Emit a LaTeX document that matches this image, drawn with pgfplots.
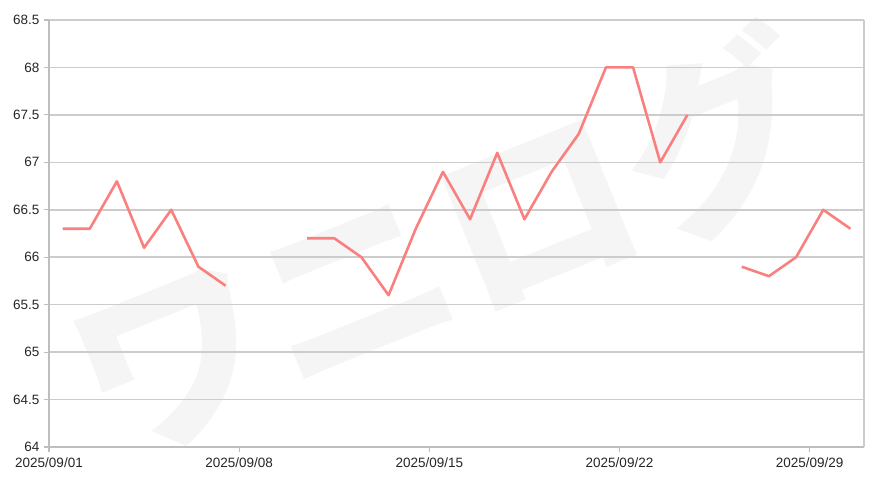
\documentclass[border=0pt]{standalone}
\usepackage{fontspec}
\setmainfont{Liberation Sans}
\newfontfamily\cjk{Noto Sans CJK JP}
\usepackage{pgfplots}
\pgfplotsset{compat=1.18}

\definecolor{lineC}{RGB}{250,128,128}
\definecolor{gridC}{RGB}{204,204,204}
\definecolor{axisC}{RGB}{190,190,190}
\definecolor{markC}{RGB}{245,245,245}

\pgfplotstableread{
x    y
1.5  66.3
2.5  66.3
3.5  66.8
4.5  66.1
5.5  66.5
6.5  65.9
7.5  65.7
8.5  nan
9.5  nan
10.5 66.2
11.5 66.2
12.5 66.0
13.5 65.6
14.5 66.3
15.5 66.9
16.5 66.4
17.5 67.1
18.5 66.4
19.5 66.9
20.5 67.3
21.5 68.0
22.5 68.0
23.5 67.0
24.5 67.5
25.5 nan
26.5 65.9
27.5 65.8
28.5 66.0
29.5 66.5
30.5 66.3
}\price

\begin{document}
\begin{tikzpicture}[x=1pt,y=1pt]
\path[use as bounding box] (0,0) rectangle (878,488);
% watermark
\node[text=markC, rotate=22, inner sep=0pt] at (445,242)
  {\cjk\bfseries\fontsize{196}{196}\selectfont ワニログ};
\begin{axis}[
    at={(49pt,41pt)}, anchor=south west,
    scale only axis,
    width=815pt, height=427pt,
    xmin=1, xmax=31,
    ymin=64, ymax=68.5,
    xtick={1,8,15,22,29},
    xticklabels={2025/09/01,2025/09/08,2025/09/15,2025/09/22,2025/09/29},
    ytick={64,64.5,...,68.5},
    yticklabels={64,64.5,65,65.5,66,66.5,67,67.5,68,68.5},
    ymajorgrids,
    grid style={gridC, line width=1.6pt},
    axis line style={draw=none},
    tick style={axisC, line width=1.2pt},
    tick align=outside,
    major tick length=5pt,
    xtick pos=bottom, ytick pos=left,
    tick label style={font=\fontsize{13.5}{13.5}\selectfont, text=black!85},
    xticklabel style={yshift=-2pt},
    yticklabel style={xshift=-1pt},
    unbounded coords=jump,
    clip=false,
]
\addplot[lineC, line width=2.6pt, line join=round] table[x=x, y=y] {\price};
\draw[axisC, line width=2pt] (rel axis cs:0,1) -- (rel axis cs:0,0) -- (rel axis cs:1,0);
\draw[gridC, line width=1.4pt] (rel axis cs:1,0) -- (rel axis cs:1,1);
\end{axis}
\end{tikzpicture}
\end{document}
